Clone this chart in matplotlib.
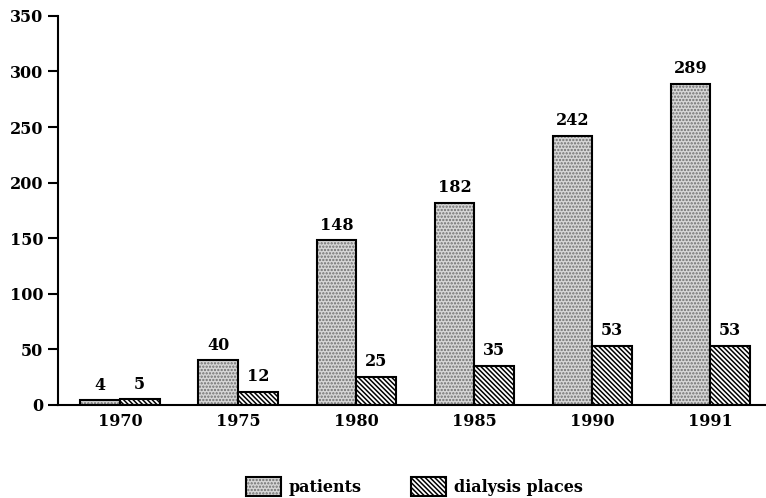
import numpy as np
import matplotlib
matplotlib.use('Agg')
import matplotlib.pyplot as plt
from matplotlib.patches import Patch

years = ['1970', '1975', '1980', '1985', '1990', '1991']
patients = [4, 40, 148, 182, 242, 289]
dialysis = [5, 12, 25, 35, 53, 53]

plt.rcParams['font.family'] = 'DejaVu Serif'
plt.rcParams['font.weight'] = 'bold'
plt.rcParams['hatch.linewidth'] = 1.1

fig = plt.figure(figsize=(7.66, 4.98), dpi=100)
ax = fig.add_axes([0.0757, 0.187, 0.924, 0.781])

x = np.arange(len(years))
w = 0.335
# dotted fill drawn in grey, outline drawn on top in black
ax.bar(x - w / 2, patients, w, facecolor='#d6d6d6', edgecolor='#6e6e6e',
       hatch='.....', linewidth=0)
b1 = ax.bar(x - w / 2, patients, w, facecolor='none', edgecolor='black',
            linewidth=1.5)
b2 = ax.bar(x + w / 2, dialysis, w, facecolor='white', edgecolor='black',
            hatch='\\\\\\\\\\\\\\', linewidth=1.5)

for rect, v in zip(b1, patients):
    ax.text(rect.get_x() + rect.get_width() / 2, v + 6, str(v),
            ha='center', va='bottom', fontsize=11.5, fontweight='bold')
for rect, v in zip(b2, dialysis):
    ax.text(rect.get_x() + rect.get_width() / 2, v + 6, str(v),
            ha='center', va='bottom', fontsize=11.5, fontweight='bold')

ax.set_xlim(-0.525, 5.47)
ax.set_ylim(0, 350)
ax.set_yticks(range(0, 351, 50))
ax.set_xticks(x)
ax.set_xticklabels(years)
ax.tick_params(axis='x', length=0, labelsize=11.5, pad=6)
ax.tick_params(axis='y', length=7, width=1.5, labelsize=11.5, direction='out')
ax.spines['top'].set_visible(False)
ax.spines['right'].set_visible(False)
ax.spines['left'].set_linewidth(1.5)
ax.spines['bottom'].set_linewidth(1.5)

h1 = Patch(facecolor='#d6d6d6', edgecolor='#6e6e6e', hatch='.....', linewidth=0)
h1b = Patch(facecolor='none', edgecolor='black', linewidth=1.5)
h2 = Patch(facecolor='white', edgecolor='black', hatch='\\\\\\\\\\\\\\', linewidth=1.5)
fig.legend(handles=[(h1, h1b), h2], labels=['patients', 'dialysis places'],
           loc='lower center', bbox_to_anchor=(0.541, -0.025),
           ncol=2, frameon=False, fontsize=11.5, handlelength=2.2,
           handleheight=1.5, handletextpad=0.5, columnspacing=3.1)

fig.savefig('out.png', dpi=100)
